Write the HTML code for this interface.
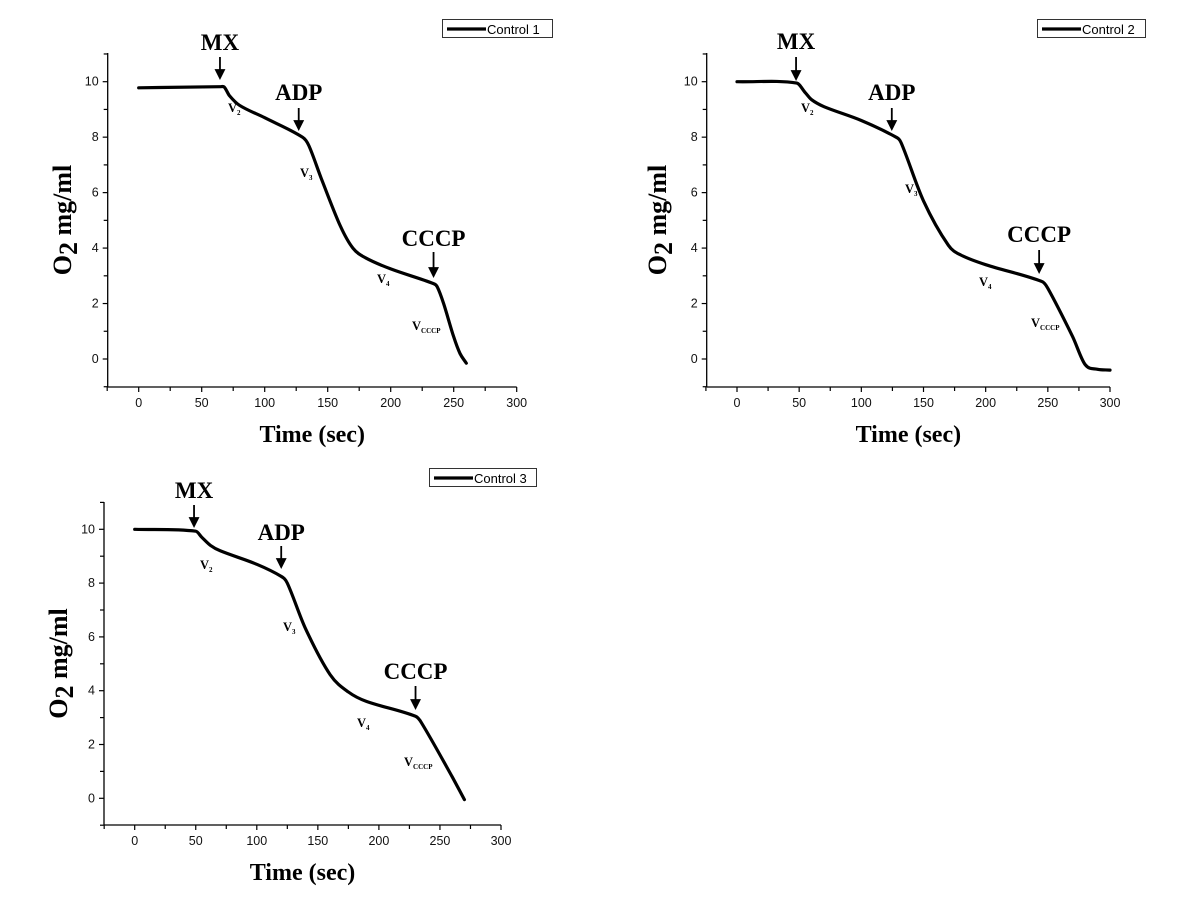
<!DOCTYPE html>
<html><head><meta charset="utf-8"><style>
body{margin:0;background:#fff;}
svg{display:block;}
.tk{font-family:"Liberation Sans",Arial,sans-serif;font-size:12.5px;fill:#111;}
.ttl{font-family:"Liberation Serif",serif;font-weight:bold;fill:#000;}
.ann{font-family:"Liberation Serif",serif;font-weight:bold;font-size:23px;fill:#000;}
.vl{font-family:"Liberation Serif",serif;font-weight:bold;font-size:12.5px;fill:#000;}
.lg{font-family:"Liberation Sans",Arial,sans-serif;font-size:13px;fill:#000;}
</style></head><body>
<svg id="fig" width="1200" height="900" viewBox="0 0 1200 900" xmlns="http://www.w3.org/2000/svg"></svg>
<script>
// ---- data ----
const xTicks = [0,50,100,150,200,250,300];
const yTicks = [0,2,4,6,8,10];
const c1Time = [0,65,68,72,80,100,130,135,145,160,170,180,200,234,237,242,250,255,260];
const c1O2   = [9.78,9.82,9.8,9.5,9.15,8.7,8.0,7.7,6.5,4.8,4.0,3.65,3.25,2.72,2.6,2.0,0.8,0.2,-0.15];
const c2Time = [0,48,55,60,70,100,128,132,150,170,180,200,245,250,270,280,290,300];
const c2O2   = [10,9.95,9.6,9.35,9.1,8.6,8.0,7.8,5.7,4.1,3.75,3.4,2.8,2.55,0.8,-0.2,-0.37,-0.4];
const c3Time = [0,50,55,62,70,100,120,125,140,160,175,190,230,235,260,270];
const c3O2   = [10,9.93,9.7,9.4,9.2,8.7,8.25,8.0,6.3,4.6,3.95,3.6,3.05,2.8,0.8,-0.05];
const c1Events = [64.5,127,234];
const c2Events = [47.5,124.5,243];
const c3Events = [48.6,120,230];
const eventNames = ["MX","ADP","CCCP"];

const NS="http://www.w3.org/2000/svg";
const svg=document.getElementById('fig');
function mk(tag,attrs,parent){const e=document.createElementNS(NS,tag);for(const k in attrs)e.setAttribute(k,attrs[k]);(parent||svg).appendChild(e);return e;}
function smooth(pts){
 const n=pts.length;
 const m=pts.map((p,i)=>{
  const a=pts[Math.max(0,i-1)],b=pts[Math.min(n-1,i+1)];
  return (b[1]-a[1])/(b[0]-a[0]);
 });
 let d='M'+pts[0][0].toFixed(1)+' '+pts[0][1].toFixed(1);
 for(let i=0;i<n-1;i++){
  const p1=pts[i],p2=pts[i+1],dx=(p2[0]-p1[0])/3;
  d+=` C${(p1[0]+dx).toFixed(1)} ${(p1[1]+m[i]*dx).toFixed(1)} ${(p2[0]-dx).toFixed(1)} ${(p2[1]-m[i+1]*dx).toFixed(1)} ${p2[0].toFixed(1)} ${p2[1].toFixed(1)}`;
 }
 return d;
}

const panels=[
 {id:1,time:c1Time,o2:c1O2,ev:c1Events,ax:107.7,x0:138.7,x300:516.7,y10:81.7,y0:359,top:53,bot:387,
  evText:[50,100,246],evA:[57,108,252],evB:[78,129,276],
  v:[[228,112],[300,177],[377,283],[412,330]],leg:[442,19,110],ytx:62,xty:442},
 {id:2,time:c2Time,o2:c2O2,ev:c2Events,ax:706.7,x0:737,x300:1110,y10:81.7,y0:359,top:53,bot:387,
  evText:[49,100,242],evA:[57,108,250],evB:[79,129,272],
  v:[[801,112],[905,193],[979,286],[1031,327]],leg:[1037,19,108],ytx:657,xty:442},
 {id:3,time:c3Time,o2:c3O2,ev:c3Events,ax:104,x0:134.7,x300:501,y10:529.3,y0:798.3,top:502,bot:825,
  evText:[498,540,679],evA:[505,546,686],evB:[526,567,708],
  v:[[200,569],[283,631],[357,727],[404,766]],leg:[429,468,107],ytx:58,xty:880}
];
const vSubs=["2","3","4","CCCP"];

panels.forEach(p=>{
 const g=mk('g',{});
 
 
 const sx=t=>p.x0+(t)*(p.x300-p.x0)/300;
 const sy=v=>p.y0+(v)*(p.y10-p.y0)/10;
 const ya=mk('line',{x1:p.ax,y1:p.top,x2:p.ax,y2:p.bot,stroke:'#000','stroke-width':1.3},g);
 
 
 const xa=mk('line',{x1:p.ax,y1:p.bot,x2:sx(300),y2:p.bot,stroke:'#000','stroke-width':1.3},g);
 
 
 for(let t=-25;t<=300;t+=25){
  const major=t%50===0;
  mk('line',{x1:sx(t),y1:p.bot,x2:sx(t),y2:p.bot+(major?5:4),stroke:'#000','stroke-width':1.2},g);
 }
 xTicks.forEach(t=>{
  const tx=mk('text',{x:sx(t),y:p.bot+20,'text-anchor':'middle',class:'tk'},g);
  tx.textContent=t;
  
  
 });
 for(let v=-1;v<=11;v+=1){
  const yy=sy(v); if(yy<p.top-0.5||yy>p.bot+0.5)continue;
  mk('line',{x1:p.ax-(v%2===0?5:4),y1:yy,x2:p.ax,y2:yy,stroke:'#000','stroke-width':1.2},g);
 }
 yTicks.forEach(v=>{
  const tx=mk('text',{x:p.ax-9,y:sy(v)+4,'text-anchor':'end',class:'tk'},g);
  tx.textContent=v;
  
  
 });
 const xt=mk('text',{x:(p.ax+sx(300))/2,y:p.xty,'text-anchor':'middle',class:'ttl','font-size':24},g);
 xt.textContent='Time (sec)';
 
 
 const yt=mk('text',{x:0,y:0,'text-anchor':'middle',class:'ttl','font-size':26,transform:`translate(${p.ytx+9},${(p.top+p.bot)/2}) rotate(-90)`},g);
 yt.innerHTML='O<tspan font-size="26" dy="6">2</tspan><tspan dy="-6"> mg/ml</tspan>';
 
 
 const pts=p.time.map((t,i)=>[sx(t),sy(p.o2[i])]);
 const ln=mk('path',{d:smooth(pts),fill:'none',stroke:'#000','stroke-width':3.2,'stroke-linejoin':'round','stroke-linecap':'round'},g);
 
 
 p.ev.forEach((t,i)=>{
  const x=sx(t);
  const tx=mk('text',{x:x,y:p.evText[i],'text-anchor':'middle',class:'ann'},g);
  tx.textContent=eventNames[i];
  
  
  const ar=mk('path',{d:`M${x} ${p.evA[i]} L${x} ${p.evB[i]-6} M${x-4} ${p.evB[i]-8} L${x+4} ${p.evB[i]-8} L${x} ${p.evB[i]} Z`,stroke:'#000','stroke-width':1.8,fill:'#000'},g);
  
  
 });
 p.v.forEach((pt,i)=>{
  const tx=mk('text',{x:pt[0],y:pt[1],class:'vl'},g);
  tx.innerHTML='V<tspan font-size="7" dy="3">'+vSubs[i]+'</tspan>';
  
  
 });
 const lg=mk('g',{},g);
 
 
 mk('rect',{x:p.leg[0]+0.5,y:p.leg[1]+0.5,width:p.leg[2],height:18,fill:'#fff',stroke:'#333','stroke-width':1},lg);
 mk('line',{x1:p.leg[0]+5,y1:p.leg[1]+10,x2:p.leg[0]+44,y2:p.leg[1]+10,stroke:'#000','stroke-width':3.2},lg);
 const lt=mk('text',{x:p.leg[0]+45,y:p.leg[1]+15,class:'lg'},lg);
 lt.textContent='Control '+p.id;
 
 
});
</script>
</body></html>
